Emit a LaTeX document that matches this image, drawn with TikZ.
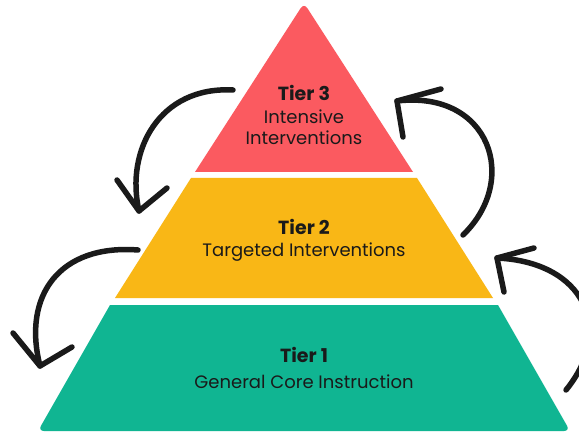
\documentclass[tikz,border=0pt]{standalone}
\usepackage{fontspec}
\setmainfont{Poppins}
\definecolor{tred}{HTML}{FB5A60}
\definecolor{tyel}{HTML}{F9B716}
\definecolor{tgrn}{HTML}{10B592}
\definecolor{ink}{HTML}{1A1A1A}
\begin{document}
\begin{tikzpicture}[x=1pt,y=-1pt,
  title/.style={font=\bfseries\fontsize{19}{22}\selectfont, text=ink, anchor=base, inner sep=0pt},
  sub/.style={font=\fontsize{18}{21}\selectfont, text=ink, anchor=base, inner sep=0pt},
  brush/.style={line width=5.5pt, line cap=round, line join=round, draw=ink}]
\useasboundingbox (0,0) rectangle (579,433);
\fill[white] (0,0) rectangle (579,433);
% tiers
\fill[tred] (195,172) {[rounded corners=6pt] -- (304,3)} -- (413,172) -- cycle;
\fill[tyel] (191,178) -- (417,178) -- (493,298) -- (115,298) -- cycle;
\fill[tgrn] (110,305) -- (498,305) {[rounded corners=6pt] -- (570,431) -- (38,431)} -- cycle;
% texts
\node[title] (l3) at (304,101) {Tier 3};
\node[sub] (a3) at (304,124) {Intensive};
\node[sub] (b3) at (304,145) {Interventions};
\node[title] (l2) at (304,235) {Tier 2};
\node[sub] (a2) at (304,257) {Targeted Interventions};
\node[title] (l1) at (304,362) {Tier 1};
\node[sub] (a1) at (304,388) {General Core Instruction};
% arrows
\coordinate (ulS) at (233,90);
\coordinate (ulT) at (139,211);
\coordinate (ulA) at (117,180);
\coordinate (ulB) at (167,188);
\draw[brush] (ulS) .. controls (160,86) and (125,150) .. (ulT);
\draw[brush] (ulA) -- (ulT) -- (ulB);
\coordinate (llS) at (138,250);
\coordinate (llT) at (40,366);
\coordinate (llA) at (13,333);
\coordinate (llB) at (72,347);
\draw[brush] (llS) .. controls (60,244) and (22,295) .. (llT);
\draw[brush] (llA) -- (llT) -- (llB);
\coordinate (urS) at (463,235);
\coordinate (urT) at (397,101);
\coordinate (urA) at (441,89);
\coordinate (urB) at (403,137);
\draw[brush] (urS) .. controls (520,180) and (490,90) .. (urT);
\draw[brush] (urA) -- (urT) -- (urB);
\coordinate (lrS) at (566,390);
\coordinate (lrT) at (497,258);
\coordinate (lrA) at (534,248);
\coordinate (lrB) at (504,292);
\draw[brush] (lrS) .. controls (615,330) and (585,262) .. (lrT);
\draw[brush] (lrA) -- (lrT) -- (lrB);
\end{tikzpicture}
\end{document}
